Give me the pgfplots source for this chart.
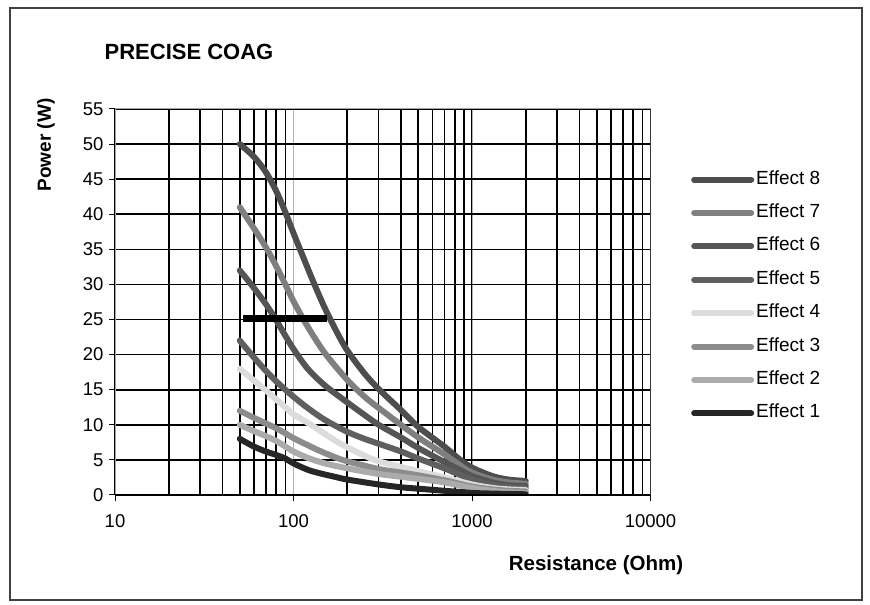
\documentclass[border=0pt]{standalone}
\usepackage{pgfplots}
\pgfplotsset{compat=1.18}
\usepackage{fontspec}
\setmainfont{Liberation Sans}
\definecolor{cE8}{HTML}{4D4D4D}
\definecolor{cE7}{HTML}{7F7F7F}
\definecolor{cE6}{HTML}{555555}
\definecolor{cE5}{HTML}{5F5F5F}
\definecolor{cE4}{HTML}{DCDCDC}
\definecolor{cE3}{HTML}{8C8C8C}
\definecolor{cE2}{HTML}{ABABAB}
\definecolor{cE1}{HTML}{262626}
\begin{document}
\begin{tikzpicture}[x=1bp,y=1bp]
\useasboundingbox (0,0) rectangle (870,605);
\draw[line width=1.8bp, black!75] (10,5) rectangle (862,597);
\node[font=\fontsize{22bp}{26bp}\selectfont\bfseries] at (189,553) {PRECISE COAG};
\node[font=\fontsize{19bp}{22bp}\selectfont\bfseries, rotate=90] at (46,460) {Power (W)};
\node[font=\fontsize{20.5bp}{24bp}\selectfont\bfseries] at (596,40) {Resistance (Ohm)};
\begin{axis}[
  at={(115bp,110bp)}, anchor=south west,
  scale only axis, width=535.5bp, height=386bp,
  xmode=log, xmin=10, xmax=10000, ymin=0, ymax=55,
  xtick={10,100,1000,10000}, xticklabels={10,100,1000,10000},
  ytick={0,5,...,55},
  tick pos=left,
  /pgf/number format/assume math mode=true,
  ticklabel style={font=\fontsize{18.5bp}{22bp}\selectfont},
  tick align=outside, major tick length=6bp, minor tick length=0pt,
  tick style={black, line width=1bp},
  xmajorgrids=true, xminorgrids=true, ymajorgrids=true,
  major x grid style={gray!60, line width=0.8bp},
  minor x grid style={black, line width=1.6bp},
  major y grid style={black, line width=1.6bp},
  axis line style={gray!70, line width=1bp},
  xticklabel style={yshift=-10bp},
  yticklabel style={xshift=-2bp},
  legend cell align=left,
  legend style={at={(1.07,0.85)}, anchor=north west, draw=none, fill=none,
    font=\fontsize{19bp}{22bp}\selectfont, row sep=12.4bp,
    nodes={inner sep=2bp, text height=13bp, text depth=4bp}},
  legend image code/.code={\draw[#1, line width=6bp, line cap=round] (0bp,0bp) -- (57bp,0bp);},
  every axis plot/.append style={line width=6bp, line cap=round, line join=round},
]
\addplot[cE8, smooth] coordinates {(50,50) (60,48.2) (70,46) (80,43.3) (90,40.3) (100,37.3) (115,33.5) (130,30.2) (150,26.6) (175,23.2) (200,20.6) (250,17.3) (300,15.1) (400,12.1) (500,9.7) (700,6.9) (850,5.1) (1000,3.9) (1300,2.7) (1600,2.2) (2000,2.0)};
\addlegendentry{Effect 8}
\addplot[cE7, smooth] coordinates {(50,41) (60,38) (70,35.3) (80,32.6) (90,30) (100,27.6) (120,24) (150,20.2) (200,16.4) (250,14) (300,12.4) (400,10) (500,8.2) (700,5.8) (850,4.3) (1000,3.2) (1300,2.2) (1600,1.8) (2000,1.6)};
\addlegendentry{Effect 7}
\addplot[cE6, smooth] coordinates {(50,32) (60,29.5) (70,27.2) (80,24.9) (90,22.7) (100,20.8) (120,18) (150,15.6) (200,13.2) (250,11.4) (300,10) (400,8.2) (500,6.7) (700,4.7) (850,3.6) (1000,2.7) (1300,1.8) (1600,1.4) (2000,1.3)};
\addlegendentry{Effect 6}
\addplot[cE5, smooth] coordinates {(50,22) (60,19.6) (70,17.7) (80,16.2) (90,15) (100,14) (120,12.4) (150,10.7) (200,9) (250,8) (300,7.3) (400,6.2) (500,5.2) (700,3.8) (850,2.9) (1000,2.2) (1300,1.4) (1600,1.1) (2000,1.0)};
\addlegendentry{Effect 5}
\addplot[cE4, smooth] coordinates {(50,18) (60,16.3) (70,14.9) (80,13.6) (90,12.5) (100,11.5) (120,10.3) (140,9.2) (170,7.8) (200,6.8) (250,5.6) (300,4.8) (400,4.0) (500,3.4) (700,2.5) (1000,1.5) (1300,1.0) (1600,0.8) (2000,0.7)};
\addlegendentry{Effect 4}
\addplot[cE3, smooth] coordinates {(50,12) (60,11) (70,10.2) (80,9.5) (90,8.8) (100,8.1) (120,7.1) (140,6.3) (170,5.4) (200,4.8) (300,3.7) (400,3.2) (500,2.8) (700,2.1) (1000,1.2) (1300,0.8) (1600,0.6) (2000,0.5)};
\addlegendentry{Effect 3}
\addplot[cE2, smooth] coordinates {(50,10) (60,9.1) (70,8.4) (80,7.7) (90,6.9) (100,6.2) (120,5.3) (150,4.5) (200,3.8) (300,3.0) (400,2.6) (500,2.3) (700,1.8) (1000,1.0) (1300,0.6) (1600,0.4) (2000,0.3)};
\addlegendentry{Effect 2}
\addplot[cE1, smooth] coordinates {(50,8) (60,6.9) (70,6.2) (80,5.7) (90,5.2) (100,4.5) (120,3.6) (140,3.1) (170,2.6) (200,2.2) (300,1.5) (400,1.1) (500,0.9) (700,0.6) (1000,0.3) (1300,0.2) (2000,0.1)};
\addlegendentry{Effect 1}
\addplot[black, line width=7bp, line cap=butt, forget plot] coordinates {(52.4,25.2) (153.5,25.2)};
\draw[black, line width=1.6bp] (rel axis cs:0,0) -- (rel axis cs:1,0) -- (rel axis cs:1,1);
\end{axis}
\end{tikzpicture}
\end{document}
